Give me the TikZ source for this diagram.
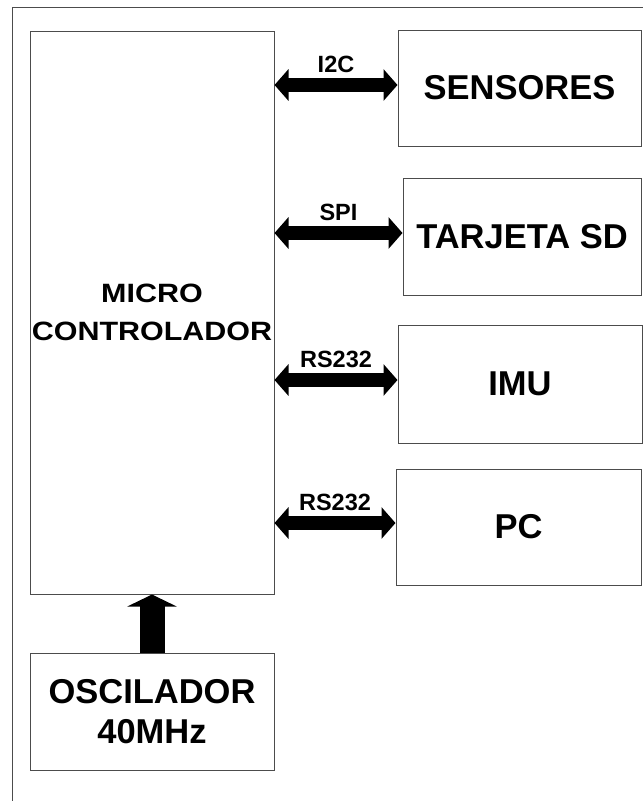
\documentclass[tikz,border=0pt]{standalone}
\usepackage{fontspec}
\setmainfont{Liberation Sans}
\usepackage{tikz}
\usetikzlibrary{
  arrows.meta,
  positioning,
}
\tikzset{
  blockbox/.style={
    rectangle, draw=black!70, line width=1pt, inner sep=0pt,
    align=center, font=\bfseries\fontsize{34.5}{40}\selectfont,
  },
  busArrow/.style={
    {Triangle[length=14pt,width=31pt]}-{Triangle[length=14pt,width=31pt]},
    line width=14pt, draw=black,
  },
  clockArrow/.style={
    -{Triangle[length=12pt,width=49pt]}, line width=25pt, draw=black,
  },
  busLabel/.style={
    font=\bfseries\fontsize{23.5}{26}\selectfont, inner sep=1pt,
  },
}

\begin{document}
\begin{tikzpicture}[x=1pt,y=-1pt]
\useasboundingbox (0,0) rectangle (643,801);
% outer frame
\draw[black!70, line width=1pt] (12,801) -- (12,7) -- (643,7);

% blocks
\node[blockbox, minimum width=244pt, minimum height=563pt,
  font=\bfseries\fontsize{26.5}{38}\selectfont\addfontfeature{FakeStretch=1.15}]
  (micro) at (152,312.5) {MICRO\\CONTROLADOR};
\node[blockbox, minimum width=243pt, minimum height=116pt] (sens) at (519.5,88) {SENSORES};
\node[blockbox, minimum width=238pt, minimum height=117pt] (sd) at (522,236.5) {TARJETA SD};
\node[blockbox, minimum width=244pt, minimum height=118pt] (imu) at (520,384) {IMU};
\node[blockbox, minimum width=245pt, minimum height=116pt] (pc) at (518.5,527) {PC};
\node[blockbox, minimum width=244pt, minimum height=117pt] (osc) at (152,711.5) {OSCILADOR\\40MHz};

% buses
\draw[busArrow] (micro.east |- 0,85) -- (sens.west |- 0,85)
  node[busLabel, midway, above=4pt] (i2c) {I2C};
\draw[busArrow] (micro.east |- 0,233) -- (sd.west |- 0,233)
  node[busLabel, midway, above=4pt] (spi) {SPI};
\draw[busArrow] (micro.east |- 0,380) -- (imu.west |- 0,380)
  node[busLabel, midway, above=4pt] (rsimu) {RS232};
\draw[busArrow] (micro.east |- 0,523) -- (pc.west |- 0,523)
  node[busLabel, midway, above=4pt] (rspc) {RS232};

% clock
\draw[clockArrow] (osc.north) -- (micro.south);
\end{tikzpicture}
\end{document}
